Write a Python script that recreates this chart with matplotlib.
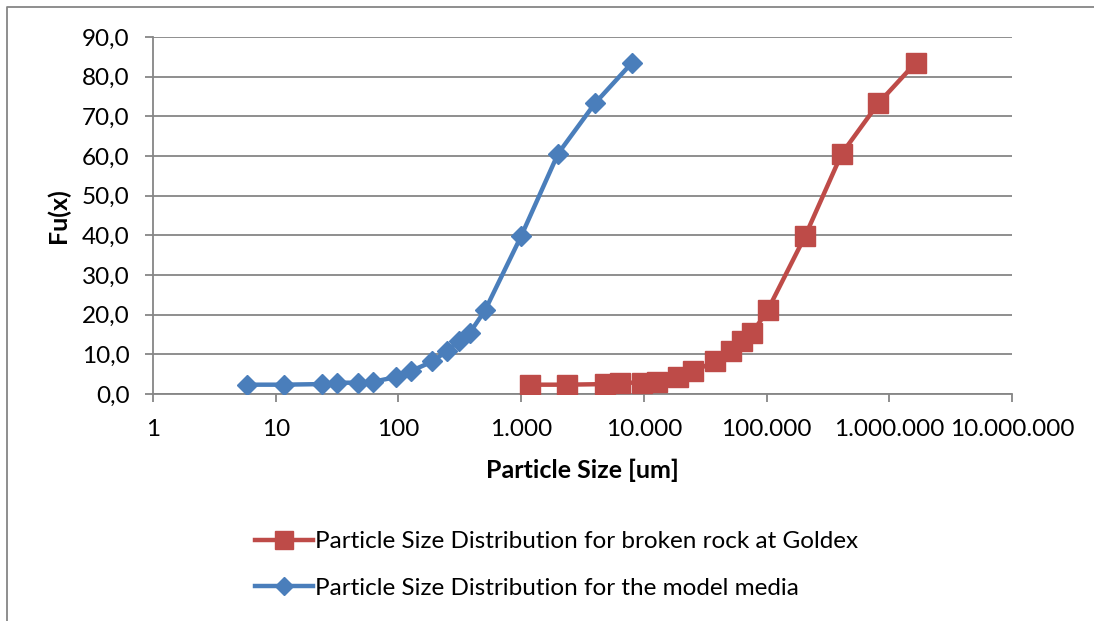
import matplotlib
matplotlib.use("Agg")
import matplotlib.pyplot as plt
from matplotlib.lines import Line2D
from matplotlib.ticker import FuncFormatter, FixedLocator, NullLocator

plt.rcParams['font.family'] = ['Lato', 'DejaVu Sans']

# particle size [um] and cumulative passing Fu(x)
size_model = [5.8, 11.7, 23.7, 31.4, 47, 62.5, 95, 126, 189, 250, 312, 383, 508,
              1000, 2000, 4000, 8000]
size_goldex = [1190, 2380, 4830, 6400, 9610, 12700, 19100, 25300, 38000, 51000,
               63500, 76700, 102000, 206000, 410000, 815000, 1640000]
fu = [2.35, 2.35, 2.5, 2.85, 2.85, 3.1, 4.25, 5.75, 8.2, 10.9, 13.4, 15.5, 21.1,
      39.8, 60.6, 73.3, 83.5]

x_ticks = [1, 10, 100, 1000, 10000, 100000, 1000000, 10000000]
y_ticks = [0, 10, 20, 30, 40, 50, 60, 70, 80, 90]

label_goldex = "Particle Size Distribution for broken rock at Goldex"
label_model = "Particle Size Distribution for the model media"

blue = '#4A7EBB'
red = '#BE4B48'
grey = '#868686'

W, H = 1094, 621
fig = plt.figure(figsize=(W / 100, H / 100), dpi=100)
ax = fig.add_axes([153 / W, 1 - 394 / H, (1012 - 153) / W, (394 - 37) / H])

ax.plot(size_model, fu, color=blue, lw=3.2, marker='D', ms=10, label=label_model,
        zorder=3)
ax.plot(size_goldex, fu, color=red, lw=3.2, marker='s', ms=14, label=label_goldex,
        zorder=3)

ax.set_xscale('log')
ax.set_xlim(1, 1e7)
ax.set_ylim(0, 90)
ax.xaxis.set_major_locator(FixedLocator(x_ticks))
ax.xaxis.set_minor_locator(NullLocator())
ax.yaxis.set_major_locator(FixedLocator(y_ticks))
ax.xaxis.set_major_formatter(FuncFormatter(lambda v, p: f"{int(round(v)):,}".replace(',', '.')))
ax.yaxis.set_major_formatter(FuncFormatter(lambda v, p: f"{v:.1f}".replace('.', ',')))

ax.grid(axis='y', color=grey, lw=1.3, zorder=0)
for s in ['top', 'right']:
    ax.spines[s].set_visible(False)
for s in ['left', 'bottom']:
    ax.spines[s].set_color(grey)
    ax.spines[s].set_linewidth(1.3)
ax.tick_params(axis='both', direction='out', length=6, width=1.3, color=grey,
               labelsize=17.5, labelcolor='black')
ax.tick_params(axis='x', pad=12)
ax.tick_params(axis='y', pad=11)

ax.set_xlabel('Particle Size [um]', fontsize=18, fontweight='bold')
ax.set_ylabel('Fu(x)', fontsize=18, fontweight='bold')
ax.xaxis.set_label_coords(0.5, -0.18)
ax.yaxis.set_label_coords(-0.097, 0.5)

h, l = ax.get_legend_handles_labels()
leg = fig.legend(h[::-1], l[::-1], loc='upper left',
                 bbox_to_anchor=(255 / W, 1 - 531 / H), frameon=False,
                 fontsize=17.5, handlelength=2.4, handletextpad=0.08,
                 labelspacing=1.06, borderpad=0, borderaxespad=0, markerscale=0.9)

# chart area border (only top and left visible)
fig.add_artist(Line2D([7 / W, 7 / W, 1], [0, 1 - 7 / H, 1 - 7 / H],
                      transform=fig.transFigure, color=grey, lw=1.3))

fig.savefig('out.png', dpi=100)
